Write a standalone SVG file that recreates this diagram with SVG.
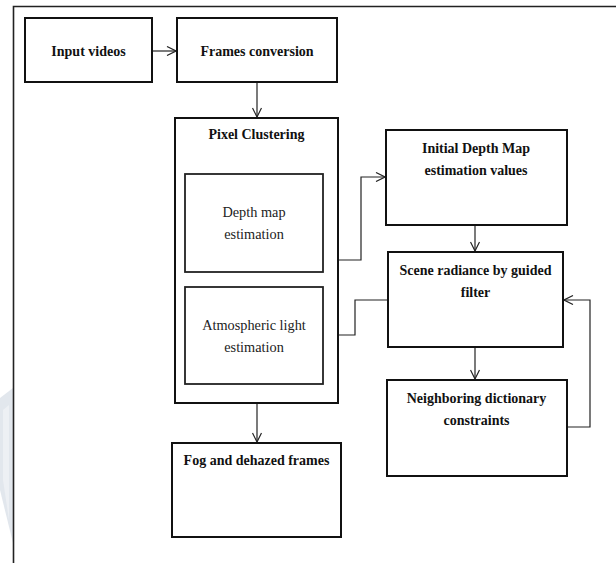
<svg xmlns="http://www.w3.org/2000/svg" width="616" height="563" viewBox="0 0 616 563">
<style>
.box{fill:#fff;stroke:#111;stroke-width:2}
.ibox{fill:#fff;stroke:#222;stroke-width:1.8}
.b{font-family:"Liberation Serif","Times New Roman",serif;font-weight:bold;font-size:14px;fill:#111;text-anchor:middle}
.r{font-family:"Liberation Serif","Times New Roman",serif;font-size:14.3px;fill:#222;text-anchor:middle}
.c{fill:none;stroke:#222;stroke-width:1.2}
</style>
<defs>
<marker id="ah" viewBox="0 0 10 10" refX="10" refY="5" markerWidth="10" markerHeight="10" markerUnits="userSpaceOnUse" orient="auto">
<path d="M1,0.5 L10,5 L1,9.5" fill="none" stroke="#222" stroke-width="1.2"/>
</marker>
</defs>
<rect width="616" height="563" fill="#fff"/>
<polygon points="0,398 13,388 13,543 0,490" fill="#e2e7ed"/>
<polygon points="3,410 9,405 9,520 3,480" fill="#edf0f4"/>
<path d="M13.5,563 V6.5 H616" fill="none" stroke="#222" stroke-width="1.6"/>
<g id="connectors">
<line class="c" x1="152" y1="51" x2="176" y2="51" marker-end="url(#ah)"/>
<line class="c" x1="257" y1="82" x2="257" y2="117" marker-end="url(#ah)"/>
<polyline class="c" points="338,260 361,260 361,177 385,177" marker-end="url(#ah)"/>
<line class="c" x1="475" y1="225" x2="475" y2="251" marker-end="url(#ah)"/>
<polyline class="c" points="388,300 355,300 355,335 324,335" marker-end="url(#ah)"/>
<line class="c" x1="475" y1="347" x2="475" y2="379" marker-end="url(#ah)"/>
<polyline class="c" points="567,427 590,427 590,300 564,300" marker-end="url(#ah)"/>
<line class="c" x1="257" y1="403" x2="257" y2="442" marker-end="url(#ah)"/>
</g>
<g id="input-videos">
<rect class="box" x="25" y="18" width="127" height="64"/>
<text class="b" x="88.5" y="56">Input videos</text>
</g>
<g id="frames-conversion">
<rect class="box" x="177" y="18" width="160" height="64"/>
<text class="b" x="257" y="56">Frames conversion</text>
</g>
<g id="pixel-clustering">
<rect class="box" x="175" y="118" width="163" height="285"/>
<text class="b" x="256.5" y="139">Pixel Clustering</text>
</g>
<g id="depth-map-estimation">
<rect class="ibox" x="185" y="174" width="138" height="98"/>
<text class="r" x="254" y="217">Depth map</text>
<text class="r" x="254" y="239">estimation</text>
</g>
<g id="atmospheric-light-estimation">
<rect class="ibox" x="185" y="287" width="138" height="97"/>
<text class="r" x="254" y="330">Atmospheric light</text>
<text class="r" x="254" y="352">estimation</text>
</g>
<g id="initial-depth-map">
<rect class="box" x="386" y="130" width="181" height="95"/>
<text class="b" x="476" y="153">Initial Depth Map</text>
<text class="b" x="476" y="175">estimation values</text>
</g>
<g id="scene-radiance">
<rect class="box" x="388" y="252" width="175" height="95"/>
<text class="b" x="475.5" y="275">Scene radiance by guided</text>
<text class="b" x="475.5" y="297">filter</text>
</g>
<g id="neighboring-dictionary">
<rect class="box" x="387" y="380" width="180" height="96"/>
<text class="b" x="476.5" y="403">Neighboring dictionary</text>
<text class="b" x="476.5" y="425">constraints</text>
</g>
<g id="fog-dehazed-frames">
<rect class="box" x="172" y="443" width="169" height="94"/>
<text class="b" x="256.5" y="465">Fog and dehazed frames</text>
</g>
</svg>
